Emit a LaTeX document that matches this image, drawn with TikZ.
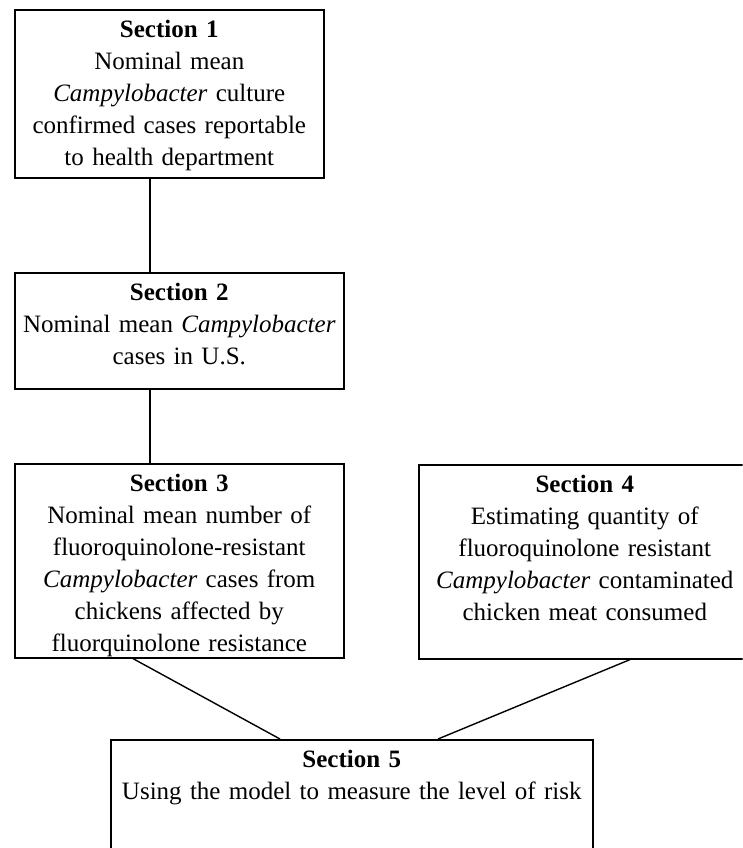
\documentclass[tikz,border=0pt]{standalone}
\usepackage{fontspec}
\setmainfont{Liberation Serif}
\begin{document}
\begin{tikzpicture}[x=1pt, y=-1pt,
  secbox/.style={draw, line width=1.6pt, anchor=north west, inner sep=0pt,
    align=center, text height=28pt, font=\fontsize{25}{32}\selectfont},
  link/.style={line width=1.4pt}]
\useasboundingbox (0,0) rectangle (743,848);
\clip (0,0) rectangle (742.5,848);
\node[secbox, text width=309pt, text depth=140pt] (sec1) at (14,9)
  {\textbf{Section 1}\\Nominal mean\\\textit{Campylobacter} culture\\confirmed cases reportable\\to health department};
\node[secbox, text width=329pt, text depth=88pt] (sec2) at (14,272)
  {\textbf{Section 2}\\Nominal mean \textit{Campylobacter}\\cases in U.S.};
\node[secbox, text width=329pt, text depth=166pt] (sec3) at (14,463)
  {\textbf{Section 3}\\Nominal mean number of\\fluoroquinolone-resistant\\\textit{Campylobacter} cases from\\chickens affected by\\fluorquinolone resistance};
\node[secbox, text width=332pt, text depth=166pt] (sec4) at (418,464)
  {\textbf{Section 4}\\Estimating quantity of\\fluoroquinolone resistant\\\textit{Campylobacter} contaminated\\chicken meat consumed};
\node[secbox, text width=482pt, text depth=112pt] (sec5) at (110,739)
  {\textbf{Section 5}\\Using the model to measure the level of risk};
\draw[link] ([xshift=136]sec1.south west) -- ([xshift=136]sec2.north west);
\draw[link] ([xshift=136]sec2.south west) -- ([xshift=136]sec3.north west);
\draw[link] ([xshift=119]sec3.south west) -- ([xshift=170]sec5.north west);
\draw[link] ([xshift=212]sec4.south west) -- ([xshift=328]sec5.north west);
\end{tikzpicture}
\end{document}
